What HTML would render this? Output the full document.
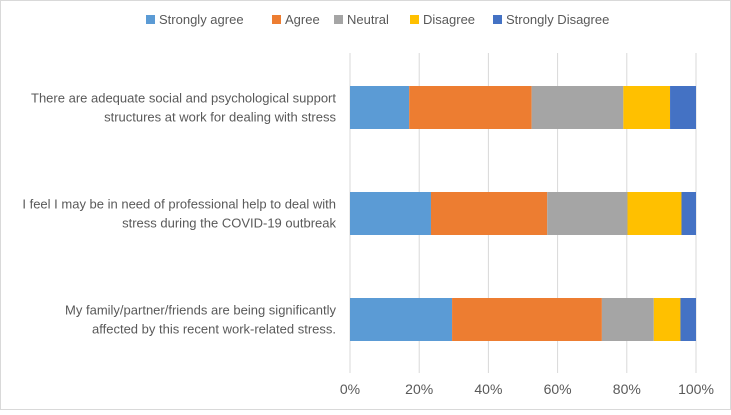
<!DOCTYPE html>
<html><head><meta charset="utf-8"><style>
body{margin:0;background:#fff;font-family:"Liberation Sans",sans-serif;}
svg text{font-family:"Liberation Sans",sans-serif;fill:#595959;}
</style></head><body>
<svg width="731" height="410" xmlns="http://www.w3.org/2000/svg">
<rect x="0.5" y="0.5" width="730" height="409" fill="#fff" stroke="#d9d9d9"/>
<g id="grid"></g><g id="bars"></g><g id="ylab"></g><g id="xlab"></g><g id="legend"></g>
</svg>
<script>
const categories=["There are adequate social and psychological support|structures at work for dealing with stress","I feel I may be in need of professional help to deal with|stress during the COVID-19 outbreak","My family/partner/friends are being significantly|affected by this recent work-related stress."];
const seriesNames=["Strongly agree","Agree","Neutral","Disagree","Strongly Disagree"];
const colors=["#5b9bd5","#ed7d31","#a5a5a5","#ffc000","#4472c4"];
const stronglyAgree=[17.1,23.4,29.5];
const agree=[35.4,33.6,43.3];
const neutral=[26.5,23.2,15.0];
const disagree=[13.5,15.6,7.7];
const stronglyDisagree=[7.5,4.2,4.5];
const ticks=[0,20,40,60,80,100];
const series=[stronglyAgree,agree,neutral,disagree,stronglyDisagree];
const NS="http://www.w3.org/2000/svg";
const x=v=>350+v*3.46;
const yc=i=>107.5+i*106;
function mk(t,a,p){const e=document.createElementNS(NS,t);for(const k in a)e.setAttribute(k,a[k]);p.appendChild(e);return e;}
const g=document.getElementById('grid');
ticks.forEach(t=>{const l=mk('line',{x1:x(t),x2:x(t),y1:53,y2:373,stroke:'#d9d9d9','stroke-width':1},g);


const tx=mk('text',{x:x(t),y:394,'text-anchor':'middle','font-size':14},document.getElementById('xlab'));tx.textContent=t+'%';

});
const b=document.getElementById('bars');
categories.forEach((c,i)=>{let acc=0;series.forEach((s,j)=>{const r=mk('rect',{x:x(acc),y:yc(i)-21.5,width:s[i]*3.46,height:43,fill:colors[j]},b);


acc+=s[i];});
const lines=c.split('|');lines.forEach((ln,k)=>{const t=mk('text',{x:336,y:yc(i)-5+k*19,'text-anchor':'end','font-size':13},document.getElementById('ylab'));t.textContent=ln;

});});
const lg=document.getElementById('legend');
const lx=[146,272,334,410,493];
seriesNames.forEach((n,j)=>{const r=mk('rect',{x:lx[j],y:15,width:9,height:9,fill:colors[j]},lg);


const t=mk('text',{x:lx[j]+13,y:24,'font-size':13},lg);t.textContent=n;

});
</script>
</body></html>
